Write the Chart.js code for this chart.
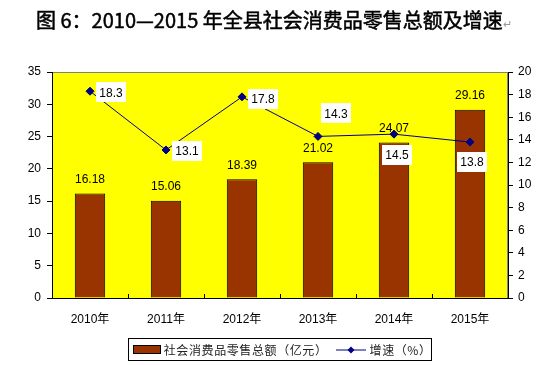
<!DOCTYPE html>
<html>
<head>
<meta charset="utf-8">
<script src="https://cdn.jsdelivr.net/npm/chart.js@4.4.0/dist/chart.umd.min.js"></script>
<style>
  body { margin: 0; background: #fff; }
  #wrap { position: relative; width: 548px; height: 365px; }
  #title {
    position: absolute; left: 36px; top: 7px; white-space: pre;
    font-family: "Noto Sans CJK SC", sans-serif; font-size: 20px; font-weight: normal;
    -webkit-text-stroke: 0.5px #000;
    letter-spacing: 0; color: #000; line-height: 26px;
  }
  #title .mark { font-size: 11px; color: #999; -webkit-text-stroke: 0; }
  #legend {
    position: absolute; left: 128px; top: 338px; width: 302px; height: 21px;
    border: 1px solid #000; display: flex; align-items: center;
    font-family: "Noto Sans CJK SC", sans-serif; font-size: 12px; color: #222; letter-spacing: 0.6px;
  }
  #legend .swatch { display: inline-block; width: 26px; height: 7px; background: #993300; border: 1px solid #000; margin: 0 3px 0 4px; }
</style>
</head>
<body>
<div id="wrap">
  <canvas id="chart" width="548" height="365"></canvas>
  <div id="title">图 6：2010—2015 年全县社会消费品零售总额及增速<span class="mark">↵</span></div>
  <div id="legend">
    <span class="swatch"></span><span>社会消费品零售总额（亿元）</span>
    <svg width="32" height="10" style="margin:0 2px 0 10px"><line x1="0" y1="5" x2="30" y2="5" stroke="#000080" stroke-width="1"/><polygon points="15,1.5 18.5,5 15,8.5 11.5,5" fill="#000080"/></svg>
    <span>增速（%）</span>
  </div>
</div>
<script>
// chart values
const years = ['2010年', '2011年', '2012年', '2013年', '2014年', '2015年'];
const retailTotal = [16.18, 15.06, 18.39, 21.02, 24.07, 29.16];
const growthRate = [18.3, 13.1, 17.8, 14.3, 14.5, 13.8];

// where each growth label box sits relative to its point (dx, dy in px)
const growthLabelOffsets = [[21, 1], [21, 1], [21, 2], [18, -23], [3, 21], [2, 20]];

const axisFont = { family: 'Liberation Sans, Arial, "Noto Sans CJK SC"', size: 12 };

// yellow plot background with grey frame, drawn before everything else
const plotBackground = {
    id: 'plotBackground',
    beforeDraw(chart) {
        const { ctx, chartArea: a } = chart;
        ctx.save();
        ctx.fillStyle = '#ffff00';
        ctx.fillRect(a.left, a.top, a.right - a.left, a.bottom - a.top);
        ctx.strokeStyle = '#808080';
        ctx.lineWidth = 1;
        ctx.strokeRect(a.left + 0.5, a.top + 0.5, a.right - a.left - 1, a.bottom - a.top);
        ctx.restore();
    }
};

// small inward tick marks on the x axis at category boundaries
const xInnerTicks = {
    id: 'xInnerTicks',
    afterDraw(chart) {
        const { ctx, chartArea: a } = chart;
        const n = chart.data.labels.length;
        const step = (a.right - a.left) / n;
        ctx.save();
        ctx.strokeStyle = '#000';
        ctx.lineWidth = 1;
        ctx.beginPath();
        for (let i = 1; i < n; i++) {
            const x = Math.round(a.left + step * i) + 0.5;
            ctx.moveTo(x, a.bottom);
            ctx.lineTo(x, a.bottom - 4);
        }
        ctx.stroke();
        ctx.restore();
    }
};

// value labels: plain text above bars, white boxes next to line points
const valueLabels = {
    id: 'valueLabels',
    afterDatasetsDraw(chart) {
        const { ctx } = chart;
        ctx.save();
        ctx.font = '12px Liberation Sans, Arial, sans-serif';
        ctx.textAlign = 'center';
        ctx.textBaseline = 'middle';

        chart.getDatasetMeta(0).data.forEach((bar, i) => {
            ctx.fillStyle = '#000';
            ctx.fillText(retailTotal[i].toFixed(2), bar.x, bar.y - 14);
        });

        chart.getDatasetMeta(1).data.forEach((pt, i) => {
            const text = growthRate[i].toFixed(1);
            const w = ctx.measureText(text).width + 7;
            const h = 20;
            const cx = pt.x + growthLabelOffsets[i][0];
            const cy = pt.y + growthLabelOffsets[i][1];
            ctx.fillStyle = '#fff';
            ctx.fillRect(Math.round(cx - w / 2), Math.round(cy - h / 2), Math.round(w), h);
            ctx.fillStyle = '#000';
            ctx.fillText(text, cx, cy + 1);
        });
        ctx.restore();
    }
};

new Chart(document.getElementById('chart'), {
    data: {
        labels: years,
        datasets: [{
            type: 'bar',
            label: '社会消费品零售总额（亿元）',
            data: retailTotal,
            yAxisID: 'y',
            backgroundColor: '#993300',
            borderColor: '#000',
            borderWidth: 1,
            barPercentage: 0.4,
            categoryPercentage: 1,
            order: 2
        }, {
            type: 'line',
            label: '增速（%）',
            data: growthRate,
            yAxisID: 'y1',
            borderColor: '#000080',
            backgroundColor: '#000080',
            borderWidth: 1,
            pointStyle: 'rectRot',
            pointRadius: 4,
            tension: 0,
            order: 1
        }]
    },
    options: {
        responsive: false,
        animation: false,
        devicePixelRatio: 1,
        layout: { padding: { top: 72, left: 0, right: 0, bottom: 0 } },
        plugins: {
            legend: { display: false },
            title: { display: false },
            tooltip: { enabled: false }
        },
        scales: {
            x: {
                grid: { display: false },
                border: { display: true, color: '#000' },
                ticks: { font: axisFont, color: '#000', padding: 6 },
                afterFit: (scale) => { scale.height = 67; }
            },
            y: {
                position: 'left',
                min: 0, max: 35,
                ticks: { stepSize: 5, font: axisFont, color: '#000', padding: 6 },
                grid: { drawOnChartArea: false, drawTicks: true, tickLength: 5, color: '#000' },
                border: { display: true, color: '#000' },
                afterFit: (scale) => { scale.width = 52; }
            },
            y1: {
                position: 'right',
                min: 0, max: 20,
                ticks: { stepSize: 2, font: axisFont, color: '#000', padding: 5 },
                grid: { drawOnChartArea: false, drawTicks: true, tickLength: 5, color: '#000' },
                border: { display: true, color: '#000' },
                afterFit: (scale) => { scale.width = 40; }
            }
        }
    },
    plugins: [plotBackground, xInnerTicks, valueLabels]
});
</script>
</body>
</html>
